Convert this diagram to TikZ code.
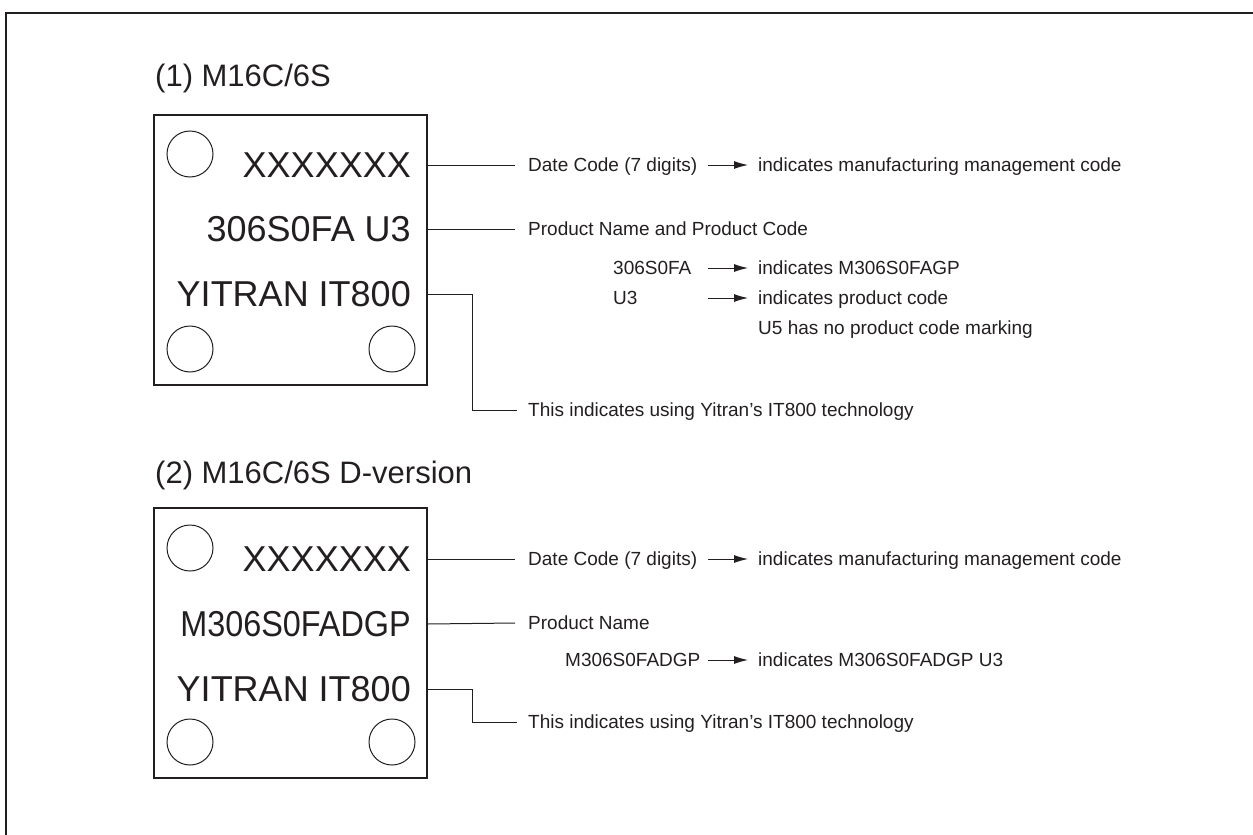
\documentclass[tikz,border=0pt]{standalone}
\usepackage{fontspec}
\setmainfont{Liberation Sans}
\usetikzlibrary{arrows.meta, positioning}
\definecolor{ink}{HTML}{231F20}

\begin{document}
\begin{tikzpicture}[x=1pt, y=-1pt, color=ink, text=ink,
  chip/.style={draw, line width=1.3pt, minimum width=273pt, minimum height=270pt, inner sep=0pt},
  hole/.style={circle, draw, line width=1pt, minimum size=46pt, inner sep=0pt},
  heading/.style={anchor=base west, inner sep=0pt, font=\fontsize{31}{37}\selectfont},
  marking/.style={anchor=east, inner sep=0pt, text height=25.8pt, text depth=0pt, font=\fontsize{36}{43}\selectfont},
  note/.style={anchor=west, inner sep=0pt, text height=13.6pt, text depth=0pt, font=\fontsize{19}{23}\selectfont},
  lead/.style={line width=1pt},
  pointer/.style={line width=1pt, -{Latex[length=14pt, width=8pt]}}]
\useasboundingbox (0,0) rectangle (1253,835);
\draw[line width=2.5pt, line join=miter] (1253,13) -- (6,13) -- (6,835);

% (1) M16C/6S
\node[heading] (head1) at (155,86) {(1) M16C/6S};
\node[chip] (box1) at (290.5,250) {};
\node[hole] (hole1a) at (190,154) {};
\node[hole] (hole1b) at (190,349) {};
\node[hole] (hole1c) at (392,349) {};
\node[marking] (xx1) at (411,165) {XXXXXXX};
\node[marking] (code1) at (411,229) {306S0FA U3};
\node[marking] (yit1) at (411,294) {YITRAN IT800};

\node[note] (date1) at (528,165) {Date Code (7 digits)};
\node[note] (ind1) at (758,165) {indicates manufacturing management code};
\node[note] (name1) at (528,229) {Product Name and Product Code};
\node[note] (part1) at (613,268) {306S0FA};
\node[note] (indpart1) at (758,268) {indicates M306S0FAGP};
\node[note] (u3) at (613,298) {U3};
\node[note] (indu3) at (758,298) {indicates product code};
\node[note] (u5) at (758,328) {U5 has no product code marking};
\node[note] (tech1) at (528,410) {This indicates using Yitran's IT800 technology};

\draw[lead] (xx1 -| box1.east) -- ([xshift=-13pt]date1.west);
\draw[lead] (code1 -| box1.east) -- ([xshift=-13pt]name1.west);
\draw[lead] (yit1 -| box1.east) -- ++(45,0) |- ([xshift=-11pt]tech1.west);
\draw[pointer] ([xshift=-50pt]ind1.west) -- ([xshift=-10pt]ind1.west);
\draw[pointer] ([xshift=-50pt]indpart1.west) -- ([xshift=-10pt]indpart1.west);
\draw[pointer] ([xshift=-50pt]indu3.west) -- ([xshift=-10pt]indu3.west);

% (2) M16C/6S D-version
\node[heading] (head2) at (155,483) {(2) M16C/6S D-version};
\node[chip] (box2) at (290.5,643) {};
\node[hole] (hole2a) at (190,548) {};
\node[hole] (hole2b) at (190,742) {};
\node[hole] (hole2c) at (392,742) {};
\node[marking] (xx2) at (411,559) {XXXXXXX};
\node[marking] (code2) at (411,624) {\scalebox{0.9}[1]{M306S0FADGP}};
\node[marking] (yit2) at (411,689) {YITRAN IT800};

\node[note] (date2) at (528,559) {Date Code (7 digits)};
\node[note] (ind2) at (758,559) {indicates manufacturing management code};
\node[note] (name2) at (528,623) {Product Name};
\node[note] (part2) at (565,660) {M306S0FADGP};
\node[note] (indpart2) at (758,660) {indicates M306S0FADGP U3};
\node[note] (tech2) at (528,722) {This indicates using Yitran's IT800 technology};

\draw[lead] (xx2 -| box2.east) -- ([xshift=-13pt]date2.west);
\draw[lead] (code2 -| box2.east) -- ([xshift=-13pt]name2.west);
\draw[lead] (yit2 -| box2.east) -- ++(45,0) |- ([xshift=-11pt]tech2.west);
\draw[pointer] ([xshift=-50pt]ind2.west) -- ([xshift=-10pt]ind2.west);
\draw[pointer] ([xshift=-50pt]indpart2.west) -- ([xshift=-10pt]indpart2.west);
\end{tikzpicture}
\end{document}
